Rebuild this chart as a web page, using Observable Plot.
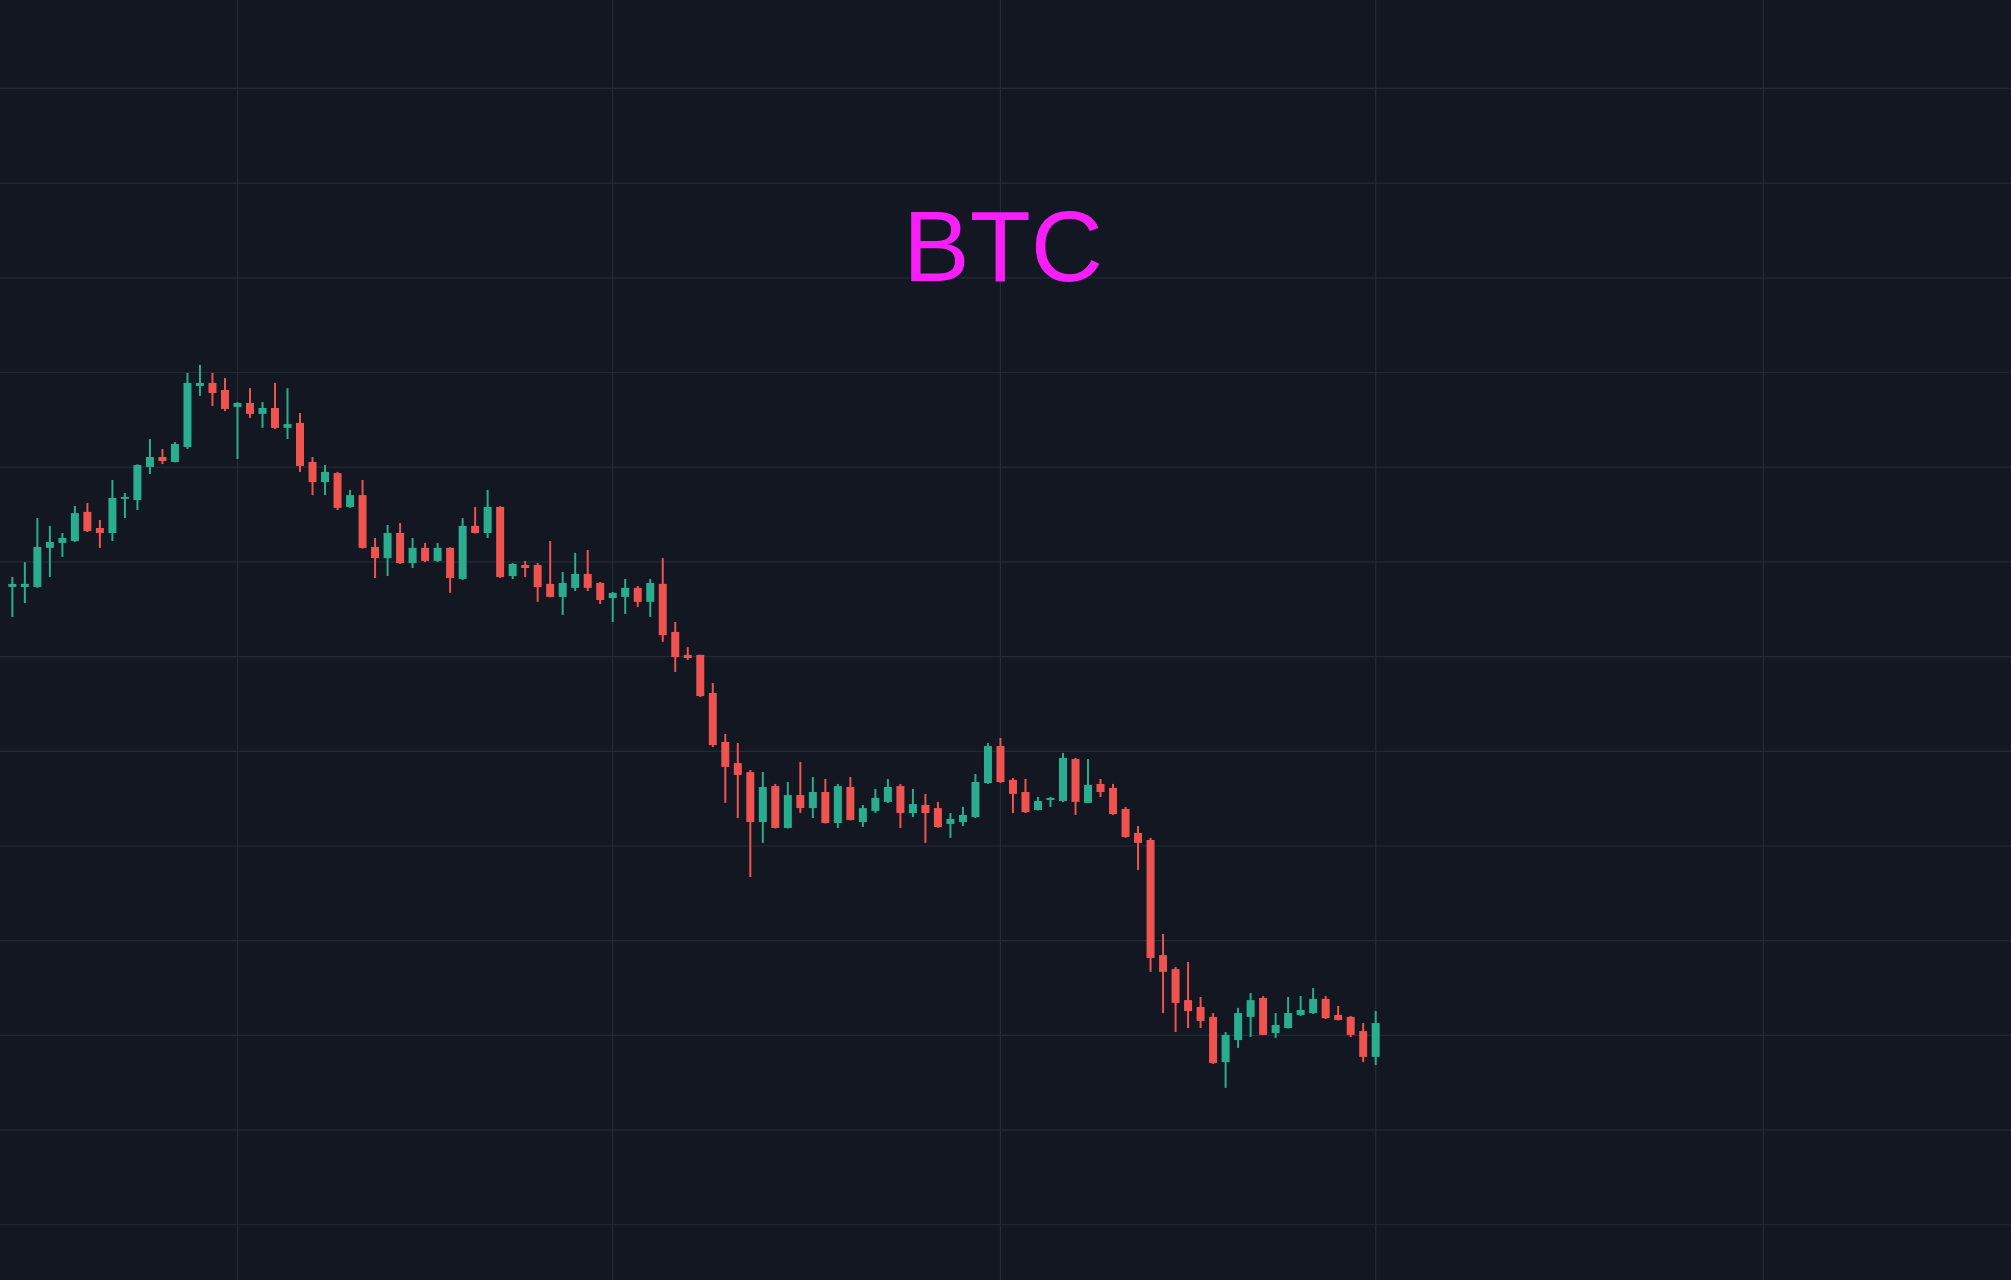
<!DOCTYPE html>
<html>
<head>
<meta charset="utf-8">
<script src="https://cdn.jsdelivr.net/npm/d3@7"></script>
<script src="https://cdn.jsdelivr.net/npm/@observablehq/plot@0.6"></script>
<style>
  html, body { margin: 0; padding: 0; background: #131722; overflow: hidden; }
  #chart svg { display: block; }
</style>
</head>
<body>
<div id="chart"></div>
<script>
// ---- Data (BTC daily candles) ----
const title = "BTC";
const firstDay = "2022-03-14";
const lastDay = "2022-07-01";
const open = [38920,38920,38920,40570,40780,40860,42090,41410,41200,42640,42590,43990,44410,44200,44830,47410,47540,47240,46520,46690,46230,46480,45640,45850,44200,43350,43730,42300,42800,40610,40140,41200,39930,40570,40020,40570,39260,41500,41200,42300,39380,39850,39850,39050,38500,38880,39470,39090,38450,38500,38880,38290,39050,37020,36050,36050,34440,32370,31480,31100,28990,30510,28740,30130,29580,30260,28950,30470,28990,29460,29840,30510,29370,29710,29580,28910,28990,29200,30640,32200,30770,30260,29500,29920,29880,31650,29800,30600,30430,29540,28530,28230,23370,22780,21470,21180,20760,18850,19780,20760,21560,20080,20290,20840,20920,21520,20840,20760,20160,19070];
const high = [39340,39970,41830,41500,41200,42340,42470,41750,43440,42890,44100,45170,44750,45040,47960,48300,47960,47750,46730,47320,46730,47540,47320,46270,44410,44070,43780,43020,43440,40990,41540,41620,40990,40780,40780,40600,41830,42300,43020,42330,39930,40020,39930,40860,39550,40360,40480,39130,38710,39260,38960,39260,40140,37440,36380,36060,34860,32710,32330,31190,31100,30600,30680,31530,30890,30810,30600,30890,29710,30390,30810,30600,30390,30180,29840,29370,29630,31020,32330,32540,30850,30810,30050,30050,31910,31700,31650,30810,30600,29630,28820,28320,24260,22870,23080,21600,20920,20120,21140,21770,21640,20920,21600,21640,21980,21640,21220,20800,20500,21010];
const low = [37650,38240,38880,39340,40190,40820,41240,40570,40860,41830,42170,43690,44110,44180,44750,46990,46560,46350,44330,46060,45640,45590,45170,43780,42800,42800,42170,42260,40540,39300,39380,39890,39720,39970,39970,38670,39210,41180,40990,39300,39260,39340,38290,38480,37740,38750,38750,38200,37440,37780,38070,37650,36600,35330,35840,34270,32160,29800,29160,26670,28110,28720,28720,29370,29160,28930,28740,29060,28780,29370,29800,28740,29200,28110,28740,28320,28820,29160,30600,30640,29370,29370,29480,29630,29840,29290,29790,30050,29290,28320,26960,22660,20920,20120,20290,20290,18770,17760,19450,19910,19990,19870,20270,20800,20880,20670,20610,19910,18850,18730];
const close = [39050,39050,40610,40820,40990,42040,41280,41200,42680,42720,44070,44410,44240,44960,47540,47540,47110,46440,46690,46230,46480,45640,45800,44030,43350,43780,42260,42800,40570,40140,41200,39930,40570,40020,40570,39300,41500,41200,42300,39340,39890,39720,38920,38500,39090,39470,38880,38370,38670,38880,38290,39090,36890,35960,35920,34310,32240,31320,30980,28990,30470,28740,30130,29580,30260,28950,30510,29080,29580,30010,30470,29370,29750,29370,28780,29120,29290,30680,32200,30680,30180,29410,29880,30010,31700,29840,30560,30260,29330,28360,28110,23250,22660,21350,21010,20590,18810,20000,20920,21470,20000,20420,20920,21050,21520,20710,20630,20000,19070,20500];
const monthTicks = ["2022-04-01","2022-05-01","2022-06-01","2022-07-01","2022-08-01"];
const priceTicks = [12000,16000,20000,24000,28000,32000,36000,40000,44000,48000,52000,56000,60000];

// ---- Build table ----
const days = d3.utcDays(new Date(firstDay), d3.utcDay.offset(new Date(lastDay), 1));
const candles = days.map((date, i) => ({date, open: open[i], high: high[i], low: low[i], close: close[i]}));

const W = 2011, H = 1280;
const up = "#2aad8f", down = "#ef5350";
const colorOf = d => d.close >= d.open ? up : down;

const chart = Plot.plot({
  width: W,
  height: H,
  margin: 0,
  style: {background: "#131722", overflow: "hidden"},
  x: {type: "utc", domain: [new Date(Date.UTC(2022, 2, 13, 1, 16)), new Date(Date.UTC(2022, 7, 20, 20, 0))], axis: null},
  y: {domain: [9646, 63713], axis: null},
  marks: [
    Plot.gridX(monthTicks.map(d => new Date(d)), {stroke: "#252a36", strokeOpacity: 1, strokeWidth: 1.2}),
    Plot.gridY(priceTicks, {stroke: "#252a36", strokeOpacity: 1, strokeWidth: 1.2}),
    Plot.text([title], {frameAnchor: "top", dx: -3, dy: 209, fill: "#f81ef8", fontSize: 100, fontFamily: "Liberation Sans, Arial, sans-serif", text: d => d}),
    Plot.ruleX(candles, {x: "date", y1: "low", y2: "high", stroke: colorOf, strokeWidth: 2}),
    Plot.ruleX(candles, {x: "date", y1: "open", y2: "close", stroke: colorOf, strokeWidth: 8})
  ]
});
document.getElementById("chart").append(chart);
</script>
</body>
</html>
